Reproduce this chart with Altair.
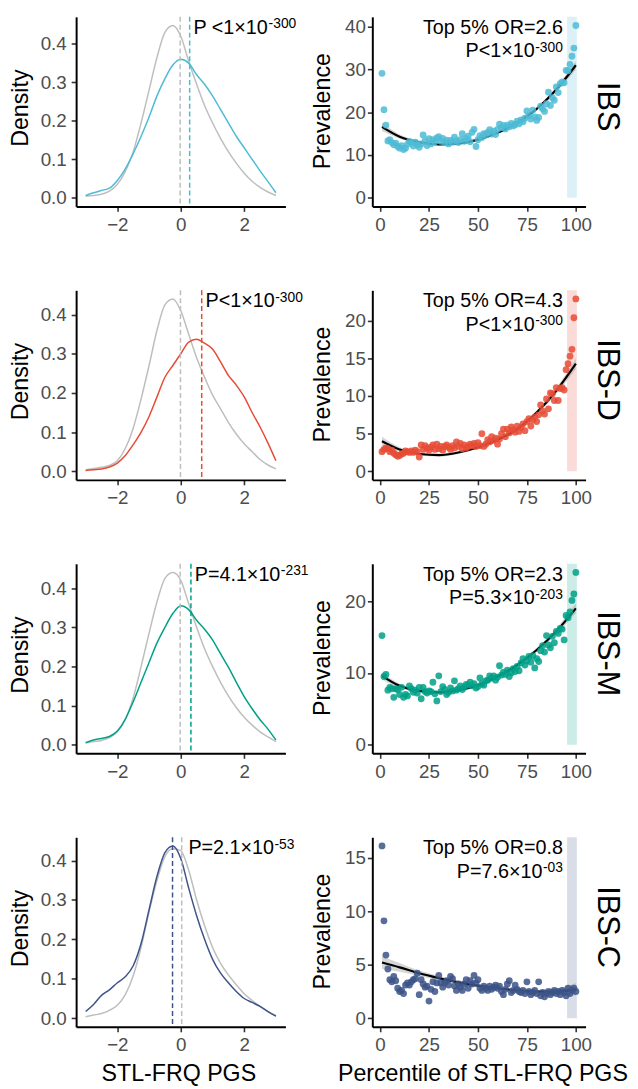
import altair as alt
import pandas as pd

FONT = "Liberation Sans"

subtypes = ["IBS", "IBS-D", "IBS-M", "IBS-C"]
colors = ["#4DBBD5", "#E64B35", "#00A087", "#3C5488"]

# ---------------- density panels ----------------
dens_x = [-3.0, -2.75, -2.5, -2.25, -2.0, -1.75, -1.5, -1.25, -1.0, -0.75, -0.5, -0.25,
          0.0, 0.25, 0.5, 0.75, 1.0, 1.25, 1.5, 1.75, 2.0, 2.25, 2.5, 2.75, 3.0]

ctrl_ibs = [0.004, 0.006, 0.009, 0.017, 0.035, 0.068, 0.12, 0.195, 0.28, 0.365, 0.43, 0.448,
            0.42, 0.355, 0.295, 0.24, 0.195, 0.155, 0.12, 0.09, 0.064, 0.043, 0.027, 0.015, 0.006]
case_ibs = [0.006, 0.013, 0.019, 0.025, 0.045, 0.075, 0.115, 0.16, 0.21, 0.265, 0.31, 0.345,
            0.36, 0.35, 0.32, 0.295, 0.265, 0.23, 0.195, 0.16, 0.13, 0.10, 0.07, 0.042, 0.013]

ctrl_ibsd = [0.004, 0.007, 0.010, 0.015, 0.027, 0.058, 0.11, 0.185, 0.27, 0.36, 0.425, 0.44,
             0.41, 0.35, 0.29, 0.24, 0.195, 0.16, 0.125, 0.095, 0.07, 0.05, 0.03, 0.016, 0.006]
case_ibsd = [0.002, 0.004, 0.006, 0.011, 0.021, 0.04, 0.068, 0.10, 0.14, 0.19, 0.24, 0.27,
             0.30, 0.33, 0.337, 0.327, 0.312, 0.28, 0.245, 0.22, 0.19, 0.15, 0.113, 0.072, 0.027]

ctrl_ibsm = [0.005, 0.008, 0.011, 0.018, 0.033, 0.065, 0.12, 0.20, 0.285, 0.365, 0.425, 0.44,
             0.42, 0.36, 0.30, 0.245, 0.20, 0.16, 0.125, 0.095, 0.07, 0.05, 0.033, 0.02, 0.008]
case_ibsm = [0.005, 0.012, 0.016, 0.021, 0.035, 0.065, 0.11, 0.16, 0.21, 0.26, 0.30, 0.335,
             0.355, 0.345, 0.318, 0.295, 0.268, 0.233, 0.198, 0.16, 0.123, 0.092, 0.064, 0.04, 0.012]

ctrl_ibsc = [0.004, 0.008, 0.012, 0.02, 0.033, 0.06, 0.108, 0.18, 0.27, 0.35, 0.41, 0.43,
             0.425, 0.375, 0.30, 0.235, 0.18, 0.14, 0.11, 0.085, 0.062, 0.045, 0.03, 0.017, 0.007]
case_ibsc = [0.017, 0.035, 0.058, 0.072, 0.09, 0.105, 0.133, 0.19, 0.275, 0.36, 0.42, 0.437,
             0.405, 0.33, 0.26, 0.20, 0.15, 0.115, 0.09, 0.068, 0.05, 0.04, 0.03, 0.017, 0.005]

dens_control = [ctrl_ibs, ctrl_ibsd, ctrl_ibsm, ctrl_ibsc]
dens_case = [case_ibs, case_ibsd, case_ibsm, case_ibsc]
mean_control = [-0.02, -0.01, -0.02, 0.03]
mean_case = [0.28, 0.66, 0.32, -0.26]
dens_p_main = ["P <1×10", "P<1×10", "P=4.1×10", "P=2.1×10"]
dens_p_sup = ["-300", "-300", "-231", "-53"]
dens_p_x = [0.40, 0.78, 0.44, 0.24]

# ---------------- prevalence panels ----------------
percentile = list(range(1, 101))

prev_ibs = [29.1, 20.6, 17.0, 13.3, 13.6, 12.9, 12.4, 12.8, 12.0, 11.6,
            12.2, 11.3, 11.6, 12.5, 13.2, 12.9, 12.1, 13.0, 12.4, 11.8,
            12.6, 14.7, 13.3, 12.2, 13.8, 12.6, 13.6, 13.1, 14.0, 14.3,
            13.2, 13.9, 12.9, 13.5, 12.6, 13.4, 13.0, 14.2, 13.3, 12.9,
            13.6, 15.0, 13.2, 13.8, 14.4, 13.1, 15.3, 16.0, 12.0, 13.6,
            14.5, 14.1, 15.0, 14.7, 15.3, 15.9, 14.9, 15.6, 14.8, 16.0,
            17.2, 16.4, 16.9, 16.1, 17.0, 16.6, 17.4, 16.8, 17.1, 17.9,
            17.3, 18.2, 17.8, 18.6, 20.3, 19.2, 18.4, 20.5, 18.9, 18.1,
            18.8, 21.4, 20.8, 20.2, 22.0, 24.7, 21.6, 23.4, 22.8, 25.9,
            24.6, 26.7, 27.1, 26.9, 29.8, 29.7, 31.2, 33.1, 35.0, 40.3]

prev_ibsd = [2.6, 2.9, 3.1, 3.0, 2.6, 2.8, 2.4, 2.2, 2.0, 2.1,
             2.3, 2.4, 2.7, 2.6, 2.5, 2.7, 2.5, 2.8, 2.6, 1.9,
             3.5, 2.9, 3.4, 3.1, 2.8, 3.2, 3.5, 2.9, 3.6, 3.0,
             3.3, 2.8, 3.3, 3.5, 3.2, 2.9, 3.4, 3.1, 3.9, 3.3,
             3.7, 3.0, 3.5, 3.1, 3.3, 3.6, 3.4, 3.7, 3.3, 3.8,
             3.4, 5.0, 3.3, 3.6, 4.2, 3.9, 4.6, 4.1, 4.4, 3.6,
             4.3, 5.0, 5.6, 4.6, 5.6, 5.1, 5.9, 5.5, 5.2, 6.0,
             5.3, 5.8, 6.3, 5.4, 6.6, 7.0, 6.0, 6.8, 7.2, 6.6,
             7.5, 8.8, 8.0, 7.6, 9.6, 8.3, 10.4, 10.3, 9.4, 11.1,
             9.4, 11.0, 11.1, 10.8, 13.5, 14.3, 15.3, 16.2, 20.4, 22.9]

prev_ibsm = [15.2, 9.5, 9.8, 7.6, 8.0, 7.8, 6.6, 7.8, 7.7, 7.0,
             8.0, 6.6, 7.0, 6.8, 8.2, 7.8, 7.3, 7.6, 7.2, 8.0,
             6.4, 8.0, 7.4, 7.2, 7.5, 7.4, 8.7, 7.1, 6.1, 9.6,
             7.4, 8.1, 7.7, 7.0, 7.3, 7.9, 7.5, 8.9, 7.6, 7.8,
             8.2, 7.7, 8.0, 8.4, 8.3, 8.7, 8.2, 8.5, 7.9, 8.1,
             9.3, 8.5, 8.3, 8.9, 9.0, 9.6, 9.3, 9.6, 9.0, 9.4,
             11.0, 9.7, 10.1, 9.8, 10.4, 9.5, 10.0, 10.6, 10.2, 10.9,
             10.3, 11.4, 12.0, 11.1, 11.7, 12.3, 11.5, 12.4, 10.7, 12.0,
             11.6, 13.1, 13.8, 12.9, 15.2, 13.9, 13.5, 15.1, 14.2, 15.8,
             15.5, 16.2, 16.1, 14.6, 18.0, 17.7, 18.5, 20.1, 21.0, 24.0]

prev_ibsc = [16.1, 9.1, 5.9, 4.6, 3.6, 3.4, 3.9, 3.5, 2.8, 2.5,
             2.6, 2.3, 3.1, 3.3, 3.1, 3.4, 3.6, 3.7, 4.2, 2.2,
             3.6, 3.2, 2.9, 3.0, 1.6, 2.7, 3.4, 2.5, 3.3, 4.0,
             3.3, 2.9, 3.3, 3.5, 3.1, 3.9, 3.7, 3.0, 2.6, 3.2,
             2.9, 2.6, 3.2, 3.6, 2.8, 3.5, 3.2, 4.0, 3.3, 3.6,
             2.8, 2.6, 3.0, 2.8, 2.6, 3.0, 2.7, 2.9, 3.1, 2.8,
             3.0, 2.5, 2.2, 2.7, 3.2, 3.5, 2.4, 2.6, 3.1, 2.7,
             2.5, 2.4, 2.6, 2.3, 3.4, 2.5, 2.2, 2.4, 2.6, 2.3,
             3.4, 2.1, 2.4, 2.0, 2.3, 2.5, 2.2, 2.4, 2.6, 2.3,
             2.5, 2.2, 2.6, 2.4, 2.1, 2.8, 2.3, 2.6, 2.8, 2.5]

prev_values = [prev_ibs, prev_ibsd, prev_ibsm, prev_ibsc]

fit_x = [1, 10, 20, 30, 40, 50, 60, 70, 80, 90, 100]
fit_ibs = [16.6, 14.3, 13.0, 12.5, 12.7, 13.6, 15.2, 17.6, 20.8, 25.3, 31.0]
lo_ibs = [15.6, 13.8, 12.6, 12.2, 12.4, 13.3, 14.9, 17.3, 20.4, 24.7, 30.0]
hi_ibs = [17.6, 14.8, 13.4, 12.8, 13.0, 13.9, 15.5, 17.9, 21.2, 25.9, 32.0]
fit_ibsd = [4.0, 2.9, 2.3, 2.15, 2.5, 3.2, 4.2, 5.6, 7.8, 10.7, 14.3]
lo_ibsd = [3.4, 2.6, 2.1, 1.95, 2.3, 3.0, 4.0, 5.35, 7.5, 10.3, 13.6]
hi_ibsd = [4.6, 3.2, 2.5, 2.35, 2.7, 3.4, 4.4, 5.85, 8.1, 11.1, 15.0]
fit_ibsm = [9.6, 8.2, 7.5, 7.3, 7.6, 8.3, 9.5, 11.1, 13.2, 15.8, 19.0]
lo_ibsm = [9.1, 7.9, 7.3, 7.1, 7.4, 8.1, 9.3, 10.9, 12.9, 15.4, 18.3]
hi_ibsm = [10.1, 8.5, 7.7, 7.5, 7.8, 8.5, 9.7, 11.3, 13.5, 16.2, 19.7]
fit_ibsc = [5.2, 4.75, 4.2, 3.75, 3.35, 3.05, 2.8, 2.6, 2.48, 2.5, 2.7]
lo_ibsc = [4.6, 4.35, 3.95, 3.55, 3.17, 2.88, 2.62, 2.43, 2.3, 2.22, 2.1]
hi_ibsc = [5.8, 5.15, 4.45, 3.95, 3.53, 3.22, 2.98, 2.77, 2.66, 2.78, 3.3]

fit_y = [fit_ibs, fit_ibsd, fit_ibsm, fit_ibsc]
fit_lo = [lo_ibs, lo_ibsd, lo_ibsm, lo_ibsc]
fit_hi = [hi_ibs, hi_ibsd, hi_ibsm, hi_ibsc]

or_text = ["Top 5% OR=2.6", "Top 5% OR=4.3", "Top 5% OR=2.3", "Top 5% OR=0.8"]
prev_p_main = ["P<1×10", "P<1×10", "P=5.3×10", "P=7.6×10"]
prev_p_sup = ["-300", "-300", "-203", "-03"]
top5 = [95.5, 100.5]
prev_yticks = [[0, 10, 20, 30, 40], [0, 5, 10, 15, 20], [0, 5, 10, 15, 20, 25], [0, 5, 10, 15]]

# ---------------- layout helpers ----------------
DW, PW, H = 212, 216, 192
ARIAL = {'P': 667, ' ': 278, '<': 584, '=': 584, '×': 584, '.': 278, '-': 333,
         'T': 611, 'o': 556, 'p': 556, '%': 889, 'O': 778, 'R': 722}


def tw(s, size):
    return sum(ARIAL.get(c, 556) for c in s) * size / 1000.0


def density_panel(i, bottom):
    col = colors[i]
    ctrl = pd.DataFrame({"x": dens_x, "y": dens_control[i]})
    case = pd.DataFrame({"x": dens_x, "y": dens_case[i]})
    ymax = max(max(dens_control[i]), max(dens_case[i]))
    xs = alt.Scale(domain=[-3.3, 3.3], nice=False, zero=False)
    ys = alt.Scale(domain=[-0.05 * ymax, 1.05 * ymax], nice=False, zero=False)
    xaxis = alt.Axis(values=[-2, 0, 2], title="STL-FRQ PGS" if bottom else None,
                     titleX=DW / 2 - 2.5, titleY=47, titleBaseline="middle",
                     labelPadding=4)
    yaxis = alt.Axis(values=[0, 0.1, 0.2, 0.3, 0.4], format=".1f", title="Density",
                     titleX=-56.5, titleY=H / 2 - 4, titleAngle=-90, titleBaseline="middle",
                     labelPadding=5)
    X = alt.X("x:Q", scale=xs, axis=xaxis)
    Y = alt.Y("y:Q", scale=ys, axis=yaxis)
    l_ctrl = alt.Chart(ctrl).mark_line(color="#BEBEBE", strokeWidth=1.5,
                                       interpolate="monotone").encode(x=X, y=Y)
    l_case = alt.Chart(case).mark_line(color=col, strokeWidth=1.5,
                                       interpolate="monotone").encode(x="x:Q", y="y:Q")
    r_ctrl = alt.Chart(pd.DataFrame({"x": [mean_control[i]]})).mark_rule(
        color="#BEBEBE", strokeWidth=1.5, strokeDash=[5, 3]).encode(x="x:Q")
    r_case = alt.Chart(pd.DataFrame({"x": [mean_case[i]]})).mark_rule(
        color=col, strokeWidth=1.5, strokeDash=[5, 3]).encode(x="x:Q")
    tdf = pd.DataFrame({"x": [dens_p_x[i]], "m": [dens_p_main[i]], "s": [dens_p_sup[i]]})
    t_main = alt.Chart(tdf).mark_text(align="left", baseline="alphabetic", font=FONT,
                                      fontSize=20, color="black").encode(
        x="x:Q", y=alt.value(17), text="m:N")
    t_sup = alt.Chart(tdf).mark_text(align="left", baseline="alphabetic", font=FONT,
                                     fontSize=14, color="black",
                                     dx=tw(dens_p_main[i], 20) + 0.5, dy=-5.5).encode(
        x="x:Q", y=alt.value(17), text="s:N")
    return alt.layer(l_ctrl, l_case, r_ctrl, r_case, t_main, t_sup).properties(
        width=DW, height=H)


def prevalence_panel(i, bottom):
    col = colors[i]
    pts = pd.DataFrame({"x": percentile, "y": prev_values[i]})
    fit = pd.DataFrame({"x": fit_x, "y": fit_y[i], "lo": fit_lo[i], "hi": fit_hi[i]})
    ymax = max(prev_values[i])
    top = 1.05 * ymax
    band = pd.DataFrame({"x1": [top5[0]], "x2": [top5[1]], "y1": [0], "y2": [top]})
    xs = alt.Scale(domain=[-3.95, 104.95], nice=False, zero=False)
    ys = alt.Scale(domain=[-0.05 * ymax, top], nice=False, zero=False)
    xaxis = alt.Axis(values=[0, 25, 50, 75, 100],
                     title="Percentile of STL-FRQ PGS" if bottom else None,
                     titleX=PW / 2 + 3.5, titleY=47, titleBaseline="middle",
                     labelPadding=4)
    yaxis = alt.Axis(values=prev_yticks[i], title="Prevalence",
                     titleX=-50.5, titleY=H / 2 - 1, titleAngle=-90, titleBaseline="middle",
                     labelPadding=2)
    r_band = alt.Chart(band).mark_rect(color=col, opacity=0.2).encode(
        x=alt.X("x1:Q", scale=xs, axis=xaxis), x2="x2:Q",
        y=alt.Y("y1:Q", scale=ys, axis=yaxis), y2="y2:Q")
    ci = alt.Chart(fit).mark_area(color="#999999", opacity=0.4,
                                  interpolate="monotone").encode(
        x="x:Q", y="lo:Q", y2="hi:Q")
    ln = alt.Chart(fit).mark_line(color="black", strokeWidth=2.2,
                                  interpolate="monotone").encode(x="x:Q", y="y:Q")
    p = alt.Chart(pts).mark_circle(color=col, size=48, opacity=0.85).encode(
        x="x:Q", y="y:Q")
    tdf = pd.DataFrame({"o": [or_text[i]], "m": [prev_p_main[i]], "s": [prev_p_sup[i]],
                        "f": [subtypes[i]]})
    right = 193
    sw = tw(prev_p_sup[i], 14)
    t1 = alt.Chart(tdf).mark_text(align="right", baseline="alphabetic", font=FONT,
                                  fontSize=20, color="black").encode(
        x=alt.value(right), y=alt.value(17), text="o:N")
    t2 = alt.Chart(tdf).mark_text(align="right", baseline="alphabetic", font=FONT,
                                  fontSize=20, color="black").encode(
        x=alt.value(right - sw - 0.5), y=alt.value(41), text="m:N")
    t3 = alt.Chart(tdf).mark_text(align="left", baseline="alphabetic", font=FONT,
                                  fontSize=14, color="black").encode(
        x=alt.value(right - sw), y=alt.value(35.5), text="s:N")
    facet = alt.Chart(tdf).mark_text(align="center", baseline="alphabetic", font=FONT,
                                     fontSize=31, color="black", angle=90).encode(
        x=alt.value(PW + 13), y=alt.value(H / 2 - 5), text="f:N")
    return alt.layer(r_band, ci, ln, p, t1, t2, t3, facet).properties(
        width=PW, height=H)


panels = []
for i in range(4):
    bottom = (i == 3)
    panels.append(density_panel(i, bottom))
    panels.append(prevalence_panel(i, bottom))

chart = alt.concat(*panels, columns=2, spacing={"row": 85, "column": 88},
                   bounds="flush", align="each").properties(
    autosize=alt.AutoSizeParams(type="none"),
    padding={"left": 69, "top": 2, "right": 561, "bottom": 1079},
).configure_view(stroke=None).configure_axis(
    grid=False, domainColor="black", domainWidth=2, tickColor="#333333",
    tickWidth=1.6, tickSize=5, labelFont=FONT, labelFontSize=19,
    labelColor="#4D4D4D", titleFont=FONT, titleFontSize=23.5,
    titleFontWeight="normal", titleColor="black")

chart.save("out.html", embed_options={"renderer": "svg", "actions": False})
